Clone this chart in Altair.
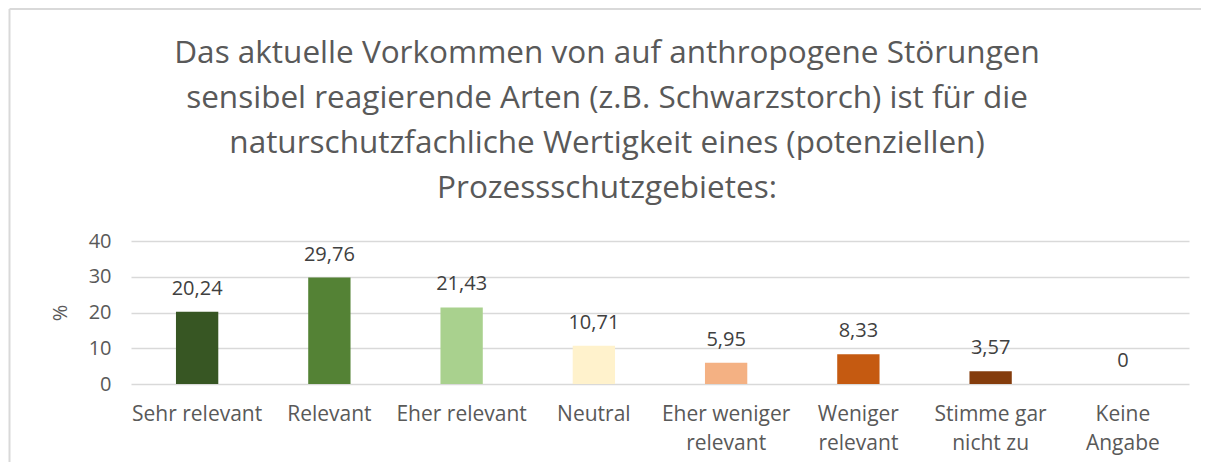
import altair as alt
import pandas as pd

categories = ["Sehr relevant", "Relevant", "Eher relevant", "Neutral",
              "Eher weniger\nrelevant", "Weniger\nrelevant", "Stimme gar\nnicht zu", "Keine\nAngabe"]
values = [20.24, 29.76, 21.43, 10.71, 5.95, 8.33, 3.57, 0]
colors = ["#375623", "#548235", "#A9D18E", "#FFF2CC", "#F4B183", "#C55A11", "#843C0C", "#5B2A08"]
title_lines = ["Das aktuelle Vorkommen von auf anthropogene Störungen",
               "sensibel reagierende Arten (z.B. Schwarzstorch) ist für die",
               "naturschutzfachliche Wertigkeit eines (potenziellen)",
               "Prozessschutzgebietes:"]
y_ticks = [0, 10, 20, 30, 40]

df = pd.DataFrame({
    "cat": categories,
    "value": values,
    "label": [("%g" % v).replace(".", ",") for v in values],
})

FONT = "Open Sans"
GRAY = "#595959"
W, H = 1058, 143

x = alt.X("cat:N", sort=categories,
          scale=alt.Scale(paddingInner=0.68, paddingOuter=0.34),
          axis=alt.Axis(title=None, labelAngle=0, domain=False, ticks=False,
                        labelFont=FONT, labelFontSize=21, labelColor=GRAY,
                        labelPadding=19, labelLineHeight=29, labelBaseline="top",
                        labelExpr="split(datum.label, '\\n')"))

bars = alt.Chart(df).mark_bar().encode(
    x=x,
    y=alt.Y("value:Q", scale=alt.Scale(domain=[0, 40], nice=False),
            axis=alt.Axis(values=y_ticks, tickCount=5, labelOverlap=False,
                          title="%", domain=False, ticks=False,
                          labelFont=FONT, labelFontSize=20, labelColor=GRAY,
                          labelPadding=20, gridColor="#d9d9d9", gridWidth=1.3,
                          titleFont=FONT, titleFontSize=20, titleColor=GRAY,
                          titleFontWeight="normal", titleAngle=270,
                          titleX=-71, titleY=H / 2, titleAlign="center",
                          titleBaseline="middle")),
    color=alt.Color("cat:N", scale=alt.Scale(domain=categories, range=colors), legend=None),
)

labels = alt.Chart(df).mark_text(
    baseline="alphabetic", dy=-17, font=FONT, fontSize=20, color="#404040"
).encode(
    x=alt.X("cat:N", sort=categories),
    y="value:Q",
    text="label:N",
)

title_df = pd.DataFrame({"t": ["\n".join(title_lines)]})
title = alt.Chart(title_df).mark_text(
    align="center", baseline="alphabetic", lineBreak="\n", lineHeight=45,
    font=FONT, fontSize=31.5, color=GRAY
).encode(
    x=alt.value(476), y=alt.value(-178), text="t:N"
)

border_df = pd.DataFrame({"b": [1]})
border_top = alt.Chart(border_df).mark_rule(color="#d9d9d9", strokeWidth=2).encode(
    x=alt.value(-121.5), x2=alt.value(1070), y=alt.value(-232)
)
border_left = alt.Chart(border_df).mark_rule(color="#d9d9d9", strokeWidth=2).encode(
    x=alt.value(-121.5), y=alt.value(-232), y2=alt.value(230)
)

chart = alt.layer(border_top, border_left, bars, labels, title).properties(
    width=W, height=H,
    autosize=alt.AutoSizeParams(type="none"),
    padding={"left": 123, "top": 233, "right": 12, "bottom": 78},
).configure(
    view=alt.ViewConfig(strokeWidth=0, stroke="transparent"),
)

chart.save("out.html", embed_options={"renderer": "svg", "actions": False})
